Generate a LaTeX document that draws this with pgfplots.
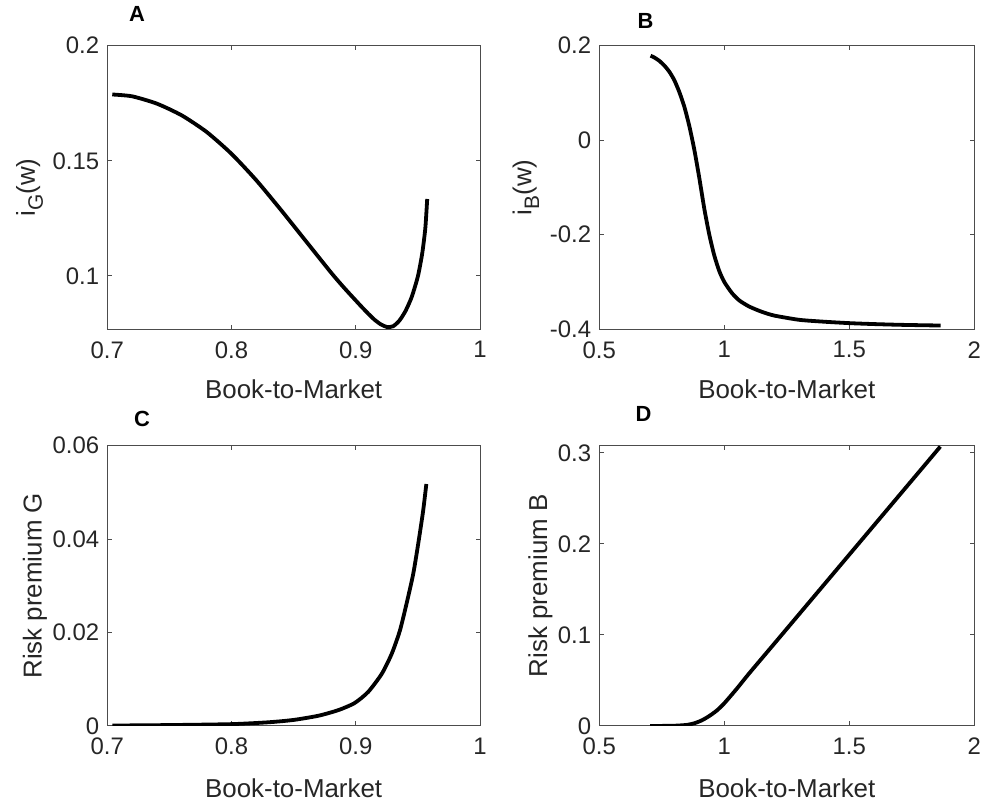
\documentclass[border=0pt]{standalone}
\usepackage{fontspec}
\setmainfont{Liberation Sans}
\usepackage{pgfplots}
\pgfplotsset{compat=1.18}
\definecolor{axgray}{gray}{0.3}
\definecolor{tickgray}{gray}{0.15}
\pgfplotsset{
  curve/.style={black, line width=3.8bp, mark=none, smooth, tension=0.4},
  every axis/.append style={
    scale only axis,
    axis line style={line width=1bp, color=axgray},
    every tick/.style={line width=1bp, color=axgray},
    major tick length=4.5bp,
    tick align=inside,
    xtick pos=both, ytick pos=both,
    scaled ticks=false,
    ticklabel style={font=\fontsize{24}{24}\selectfont, color=tickgray},
    yticklabel style={anchor=east, inner sep=0pt, xshift=-8bp},
    xticklabel style={anchor=north, inner sep=0pt, yshift=-12bp},
    label style={font=\fontsize{26}{26}\selectfont, color=tickgray},
    title style={font=\bfseries\fontsize{22}{22}\selectfont, anchor=center, color=black, inner sep=0pt},
    xlabel={Book-to-Market},
  }
}
\begin{document}
\begin{tikzpicture}[x=1bp,y=1bp]
\useasboundingbox (0,0) rectangle (984,806);

% Panel A
\begin{axis}[
  at={(107.3bp,476.7bp)}, anchor=south west,
  width=372.7bp, height=283.6bp,
  xmin=0.7, xmax=1, ymin=0.0768, ymax=0.2,
  xtick={0.7,0.8,0.9,1}, xticklabels={0.7,0.8,0.9,1},
  ytick={0.1,0.15,0.2}, yticklabels={0.1,0.15,0.2},
  xlabel style={at={(axis description cs:0.5,0)}, anchor=base, yshift=-69bp},
  ylabel={i\raisebox{-0.3em}{\fontsize{21}{21}\selectfont G}(w)},
  ylabel style={at={(axis description cs:-0.194,0.5)}, anchor=base},
  title={A}, title style={at={(axis description cs:0.0797,1.0906)}},
]
\addplot[curve] coordinates {
(0.704,0.1788) (0.72,0.1780) (0.74,0.1748) (0.76,0.1697) (0.78,0.1625)
(0.80,0.1530) (0.82,0.1415) (0.84,0.1285) (0.86,0.1150) (0.88,0.1015)
(0.89,0.0952) (0.90,0.0893) (0.905,0.0864) (0.91,0.0836) (0.915,0.0810)
(0.92,0.0790) (0.925,0.0778) (0.93,0.0781) (0.935,0.0805) (0.94,0.0847)
(0.945,0.0908) (0.95,0.0998) (0.9535,0.1098) (0.956,0.1208) (0.9575,0.1334)
};
\end{axis}

% Panel B
\begin{axis}[
  at={(599.3bp,476.7bp)}, anchor=south west,
  width=375bp, height=283.6bp,
  xmin=0.5, xmax=2, ymin=-0.4, ymax=0.2,
  xtick={0.5,1,1.5,2}, xticklabels={0.5,1,1.5,2},
  ytick={-0.4,-0.2,0,0.2}, yticklabels={-0.4,-0.2,0,0.2},
  xlabel style={at={(axis description cs:0.5,0)}, anchor=base, yshift=-69bp},
  ylabel={i\raisebox{-0.3em}{\fontsize{21}{21}\selectfont B}(w)},
  ylabel style={at={(axis description cs:-0.181,0.5)}, anchor=base},
  title={B}, title style={at={(axis description cs:0.123,1.066)}},
]
\addplot[curve] coordinates {
(0.705,0.1788) (0.72,0.1750) (0.74,0.1680) (0.76,0.1580) (0.78,0.1450)
(0.80,0.1270) (0.82,0.1020) (0.84,0.0710) (0.86,0.0300) (0.88,-0.0200)
(0.90,-0.0800) (0.92,-0.1450) (0.94,-0.2000) (0.96,-0.2440) (0.98,-0.2770)
(1.00,-0.3000) (1.03,-0.3230) (1.06,-0.3390) (1.10,-0.3520) (1.15,-0.3630)
(1.20,-0.3710) (1.30,-0.3800) (1.40,-0.3840) (1.50,-0.3870) (1.60,-0.3890)
(1.70,-0.3905) (1.80,-0.3915) (1.865,-0.3920)
};
\end{axis}

% Panel C
\begin{axis}[
  at={(107.3bp,80bp)}, anchor=south west,
  width=372.7bp, height=280.3bp,
  xmin=0.7, xmax=1, ymin=0, ymax=0.06,
  xtick={0.7,0.8,0.9,1}, xticklabels={0.7,0.8,0.9,1},
  ytick={0,0.02,0.04,0.06}, yticklabels={0,0.02,0.04,0.06},
  xlabel style={at={(axis description cs:0.5,0)}, anchor=base, yshift=-72bp},
  ylabel={Risk premium G},
  ylabel style={at={(axis description cs:-0.176,0.5)}, anchor=base},
  title={C}, title style={at={(axis description cs:0.093,1.0756)}},
]
\addplot[curve] coordinates {
(0.704,0.0001) (0.75,0.0002) (0.80,0.0004) (0.83,0.0008) (0.85,0.0013)
(0.87,0.0022) (0.886,0.0034) (0.899,0.0049) (0.910,0.0073) (0.921,0.0112)
(0.929,0.0155) (0.9355,0.0204) (0.9408,0.0261) (0.9462,0.0325) (0.9502,0.0389)
(0.9542,0.0460) (0.9568,0.0518)
};
\end{axis}

% Panel D
\begin{axis}[
  at={(599.3bp,80bp)}, anchor=south west,
  width=375bp, height=280.3bp,
  xmin=0.5, xmax=2, ymin=0, ymax=0.308,
  xtick={0.5,1,1.5,2}, xticklabels={0.5,1,1.5,2},
  ytick={0,0.1,0.2,0.3}, yticklabels={0,0.1,0.2,0.3},
  xlabel style={at={(axis description cs:0.5,0)}, anchor=base, yshift=-72bp},
  ylabel={Risk premium B},
  ylabel style={at={(axis description cs:-0.1395,0.5)}, anchor=base},
  title={D}, title style={at={(axis description cs:0.118,1.0917)}},
]
\addplot[curve] coordinates {
(0.703,0.0000) (0.75,0.0001) (0.80,0.0003) (0.85,0.0012) (0.88,0.0030)
(0.91,0.0062) (0.94,0.0110) (0.97,0.0170) (1.00,0.0250) (1.05,0.0410)
(1.10,0.0580) (1.20,0.0905) (1.30,0.1231) (1.40,0.1557) (1.50,0.1883)
(1.60,0.2209) (1.70,0.2535) (1.80,0.2861) (1.864,0.3070)
};
\end{axis}
\end{tikzpicture}
\end{document}
